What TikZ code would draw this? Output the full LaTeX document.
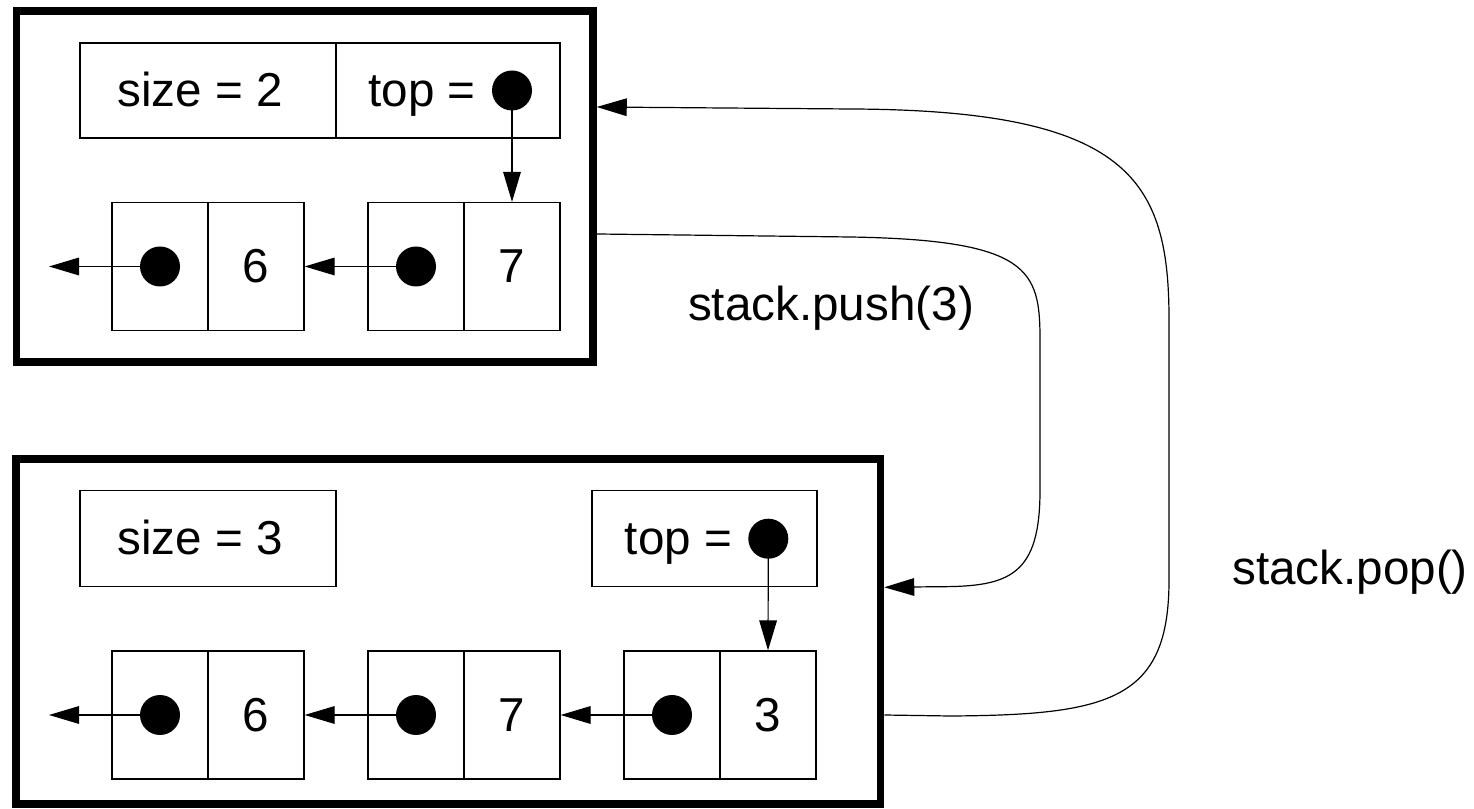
\documentclass[tikz,border=0pt]{standalone}
\usepackage{fontspec}
\setmainfont{Liberation Sans}
\usetikzlibrary{arrows.meta}
\tikzset{
  frame/.style={draw,line width=1.9pt,inner sep=0pt},
  cell/.style={draw,line width=.3pt,inner sep=0pt,minimum width=24pt,minimum height=32pt,
    text height=8pt,text depth=0pt},
  dot/.style={circle,fill,inner sep=0pt,minimum size=10pt},
  arr/.style={line width=.3pt,-{Triangle[length=7.5pt,width=4.4pt]}}
}

\begin{document}
\begin{tikzpicture}[x=.25pt,y=-.25pt,font=\fontsize{11.9}{14}\selectfont]
\useasboundingbox (0,0) rectangle (1474,809);
% stack with two elements
\node[frame,minimum width=144.1pt,minimum height=87.75pt] (s1) at (304.75,186.5) {};
\node[cell,minimum width=64pt,minimum height=23.75pt] (sz1) at (208,90.5) {size = 2\kern4pt};
\node[cell,minimum width=56pt,minimum height=23.75pt] (tp1) at (448,90.5) {top =\kern13pt};
\node[dot] (td1) at (512,90.5) {};
\node[cell] (a1) at (160,266.5) {};
\node[cell] (b1) at (256,266.5) {6};
\node[cell] (a2) at (416,266.5) {};
\node[cell] (b2) at (512,266.5) {7};
\node[dot] (d1) at (a1) {};
\node[dot] (d2) at (a2) {};
\coordinate (nil1) at (49,266.5);
\draw[arr] (d1.center) -- (nil1);
\draw[arr] (d2.center) -- (b1.east);
\draw[arr] (td1.center) -- (b2.north);
% stack with three elements
\node[frame,minimum width=216.1pt,minimum height=86.25pt] (s2) at (448.25,631.5) {};
\node[cell,minimum width=64pt,minimum height=24pt] (sz2) at (208,538.7) {size = 3\kern4pt};
\node[cell,minimum width=56.25pt,minimum height=24pt] (tp2) at (704.5,538.7) {top =\kern13pt};
\node[dot] (td2) at (768.3,538.7) {};
\node[cell] (c1) at (160,715) {};
\node[cell] (e1) at (256,715) {6};
\node[cell] (c2) at (416,715) {};
\node[cell] (e2) at (512,715) {7};
\node[cell] (c3) at (672,715) {};
\node[cell] (e3) at (768,715) {3};
\node[dot] (f1) at (c1) {};
\node[dot] (f2) at (c2) {};
\node[dot] (f3) at (c3) {};
\coordinate (nil2) at (49,715);
\draw[arr] (f1.center) -- (nil2);
\draw[arr] (f2.center) -- (e1.east);
\draw[arr] (f3.center) -- (e2.east);
\draw[arr] (td2.center) -- (e3.north);
% operations
\draw[arr] (s1.east |- 0,234) -- (850,237) .. controls (1030,240) and (1040,270) .. (1040,340)
      -- (1040,490) .. controls (1040,575) and (1010,586.7) .. (940,586.7) -- (s2.east |- tp2.south);
\draw[arr] (s2.east |- e3) -- (950,716) .. controls (1110,715) and (1169,700) .. (1169,580)
      -- (1169,320) .. controls (1169,180) and (1130,110) .. (850,109) -- (s1.east |- 0,107);
\node[anchor=base] (push) at (831,321) {stack.push(3)};
\node[anchor=base] (pop) at (1350,585) {stack.pop()};
\end{tikzpicture}
\end{document}
